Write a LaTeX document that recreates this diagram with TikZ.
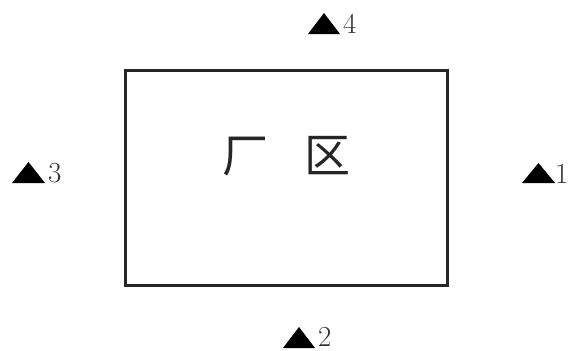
\documentclass[tikz,border=0pt]{standalone}
\usepackage{fontspec}
\newfontfamily\cjk{Noto Sans CJK SC}
\begin{document}
\begin{tikzpicture}[x=1pt,y=-1pt,
  marker/.style={fill=black},
  numlabel/.style={inner sep=0pt,font=\fontsize{29}{29}\selectfont,text=black!80},
  areabox/.style={draw=black!85,line width=3pt}]
\useasboundingbox (0,0) rectangle (574,351);
\node[areabox,minimum width=322pt,minimum height=215pt,inner sep=0pt] (zone) at (286.5,178) {};
\node[font=\cjk\fontsize{46}{46}\selectfont,text=black!85] (zonetext) at (286.5,156) {厂\hspace{0.8em}区};
% marker 4
\fill[marker] (308,34) -- (340,34) -- (324,13) -- cycle;
\node[numlabel,anchor=west] (n4) at (343,24) {4};
% marker 3
\fill[marker] (12,183) -- (45,183) -- (28.5,162) -- cycle;
\node[numlabel,anchor=west] (n3) at (48,173) {3};
% marker 1
\fill[marker] (522,183) -- (555,183) -- (538.5,163) -- cycle;
\node[numlabel,anchor=west] (n1) at (555,174) {1};
% marker 2
\fill[marker] (283,348) -- (315,348) -- (299,327) -- cycle;
\node[numlabel,anchor=west] (n2) at (318,337) {2};
\end{tikzpicture}
\end{document}
